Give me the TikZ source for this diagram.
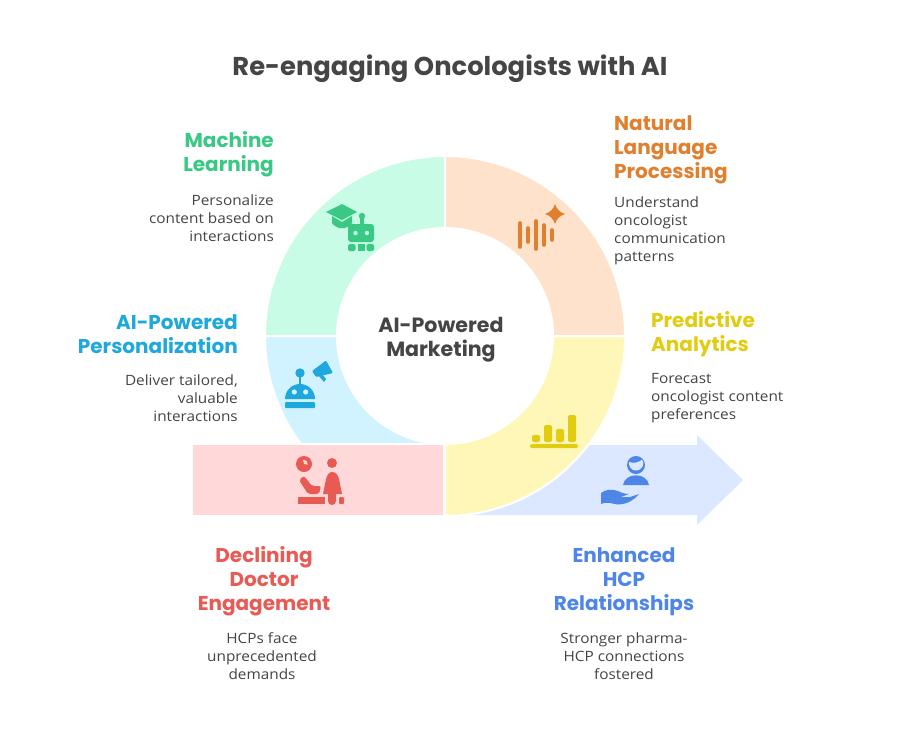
\documentclass[tikz,border=0pt]{standalone}
\usepackage{fontspec}
\setmainfont[FakeStretch=1.08]{Open Sans}
\newfontfamily\headfont{Poppins}
\definecolor{inkgray}{HTML}{454545}
\definecolor{greenfill}{HTML}{C8FCE6}
\definecolor{greenink}{HTML}{3AC985}
\definecolor{orangefill}{HTML}{FFE2CC}
\definecolor{orangeink}{HTML}{E0802E}
\definecolor{yellowfill}{HTML}{FFF7B8}
\definecolor{yellowink}{HTML}{E2CC12}
\definecolor{cyanfill}{HTML}{D1F3FF}
\definecolor{cyanink}{HTML}{1EA8DC}
\definecolor{redfill}{HTML}{FFD9D9}
\definecolor{redink}{HTML}{E85B55}
\definecolor{bluefill}{HTML}{DBE8FF}
\definecolor{blueink}{HTML}{4E86E8}
\tikzset{
  segment/.style={draw=white, line width=2pt, fill=#1},
  headtext/.style={text=#1, inner sep=0pt, font=\headfont\bfseries\fontsize{20}{24}\selectfont},
  bodytext/.style={text=inkgray, inner sep=0pt, font=\fontsize{14.2}{18}\selectfont},
}
\begin{document}
\begin{tikzpicture}[x=1pt, y=-1pt]
\useasboundingbox (0,0) rectangle (900,732); % page
\fill[white] (0,0) rectangle (900,732);
% segments
\fill[bluefill] (445,445) -- (697,445) -- (697,435) -- (743,480) -- (697,525) -- (697,515) -- (445,515) -- cycle; % arrow
\draw[segment=yellowfill] (625,336) arc[start angle=0, end angle=-90, radius=180pt] -- (445,444) arc[start angle=-90, end angle=0, radius=108pt] -- cycle; % predictive
\begin{scope}
\clip (200,336) rectangle (445,444);
\draw[segment=cyanfill] (265,336) arc[start angle=180, end angle=270, radius=180pt] -- (445,444) arc[start angle=270, end angle=180, radius=108pt] -- cycle; % personalization
\end{scope}
\draw[segment=greenfill] (445,156) arc[start angle=90, end angle=180, radius=180pt] -- (337,336) arc[start angle=180, end angle=90, radius=108pt] -- cycle; % machine learning
\draw[segment=orangefill] (445,156) arc[start angle=90, end angle=0, radius=180pt] -- (553,336) arc[start angle=0, end angle=90, radius=108pt] -- cycle; % nlp
\draw[segment=redfill] (192,444) rectangle (444,516); % declining
% machine learning icon
\fill[greenink] (326,212) -- (342,204) -- (357,212) -- (342,220) -- cycle;
\fill[greenink] (332,216) -- (342,222) -- (352,216) -- (352,223) .. controls (347,230) and (337,230) .. (332,223) -- cycle;
\fill[greenink, rounded corners=3pt] (348,224) rectangle (374,242);
\fill[greenink] (360,216) rectangle (364,226);
\fill[greenink] (362,216) circle (3.2);
\fill[greenfill] (355.5,233) circle (2.2) (367,233) circle (2.2);
\fill[greenink, rounded corners=1.5pt] (348,244) rectangle (355.5,251);
\fill[greenink] (357.5,244) rectangle (364.5,251);
\fill[greenink, rounded corners=1.5pt] (366.5,244) rectangle (374,251);
% nlp icon
\draw[orangeink, line width=3.6pt, line cap=round] (520,223) -- (520,247) (528,228) -- (528,242) (536,221) -- (536,249) (544,225) -- (544,245) (552,230) -- (552,240);
\fill[orangeink] (555,204) .. controls (556.5,209) and (560,212.5) .. (565,214) .. controls (560,215.5) and (556.5,219) .. (555,224) .. controls (553.5,219) and (550,215.5) .. (545,214) .. controls (550,212.5) and (553.5,209) .. (555,204) -- cycle;
% personalization icon
\fill[cyanink] (285,399) arc[start angle=180, end angle=0, radius=15pt] -- cycle;
\fill[cyanink, rounded corners=1pt] (285,402) rectangle (315,408);
\fill[cyanink] (298.6,374) rectangle (301.4,385);
\fill[cyanink] (300,373) circle (4.7);
\fill[cyanfill] (294.3,392) circle (2.6) (305.7,392) circle (2.6);
\fill[cyanink, rounded corners=1pt] (312,371) -- (326,360.5) -- (333,373) -- (316,377) -- cycle;
\fill[cyanink] (318,375) -- (322,374) -- (326,379) -- (324,382) -- cycle;
% declining icon
\fill[redink] (304,464) circle (8);
\fill[redfill] (304,464) -- (303,460) arc[start angle=100, end angle=-10, radius=4pt] -- cycle;
\fill[redink] (332,463) circle (5);
\fill[redink] (332,472) .. controls (336,472) and (338,475) .. (339,479) -- (342,494) -- (336,494) -- (336,501) arc[start angle=0, end angle=-180, radius=4pt] -- (328,494) -- (323,494) -- (326,479) .. controls (327,475) and (329,472) .. (332,472) -- cycle;
\fill[redink, rounded corners=2pt] (299,480) -- (304,476) -- (312,486) -- (321,486) -- (319,494) -- (308,494) -- cycle;
\fill[redink] (298,497) rectangle (325,504);
\fill[redink, rounded corners=1pt] (339,497) rectangle (344,504);
% predictive icon
\fill[yellowink, rounded corners=2pt] (532,435) rectangle (540,442) (544,425) rectangle (552,442) (556,429) rectangle (564,442) (568,415) rectangle (576,442);
\fill[yellowink, rounded corners=1.5pt] (530,444) rectangle (578,448);
% enhanced icon
\fill[blueink] (636,465) circle (9);
\fill[bluefill] (629,462) .. controls (634,464) and (640,462) .. (642,459.5) .. controls (645,463) and (643,470) .. (636,470.5) .. controls (631,470.5) and (628.5,466) .. (629,462) -- cycle;
\fill[blueink] (623,485) .. controls (625,472) and (647,472) .. (649,485) -- cycle;
\fill[blueink] (601,504) -- (601,493) .. controls (606,489) and (612,489) .. (618,491) .. controls (622,493) and (625,494) .. (629,494) -- (621,497) -- (630,497) -- (639,494) .. controls (634,500) and (628,504) .. (618,504.5) .. controls (612,504) and (608,501) .. (601,504) -- cycle;
% texts
\node[text=inkgray, inner sep=0pt, font=\headfont\bfseries\fontsize{25.8}{30}\selectfont] (titletext) at (450,69) {Re-engaging Oncologists with AI};
\node[text=inkgray, inner sep=0pt, align=center, font=\headfont\bfseries\fontsize{20.6}{24}\selectfont] (centertext) at (441,340) {AI-Powered\\Marketing};
\node[headtext=greenink, align=right, anchor=east] (mlhead) at (274,154) {Machine\\Learning};
\node[bodytext, align=right, anchor=east] (mlbody) at (274,218) {Personalize\\content based on\\interactions};
\node[headtext=orangeink, align=left, anchor=west] (nlphead) at (614,149.5) {Natural\\Language\\Processing};
\node[bodytext, align=left, anchor=west] (nlpbody) at (614,231) {Understand\\oncologist\\communication\\patterns};
\node[headtext=yellowink, align=left, anchor=west] (predhead) at (651,334) {Predictive\\Analytics};
\node[bodytext, align=left, anchor=west] (predbody) at (651,398) {Forecast\\oncologist content\\preferences};
\node[headtext=cyanink, align=right, anchor=east] (perhead) at (238,334) {AI-Powered\\Personalization};
\node[bodytext, align=right, anchor=east] (perbody) at (238,398) {Deliver tailored,\\valuable\\interactions};
\node[headtext=redink, align=center] (dechead) at (264,581) {Declining\\Doctor\\Engagement};
\node[bodytext, align=center] (decbody) at (262,656) {HCPs face\\unprecedented\\demands};
\node[headtext=blueink, align=center] (enhead) at (624,582) {Enhanced\\HCP\\Relationships};
\node[bodytext, align=center] (enbody) at (624,656) {Stronger pharma-\\HCP connections\\fostered};
\end{tikzpicture}
\end{document}
